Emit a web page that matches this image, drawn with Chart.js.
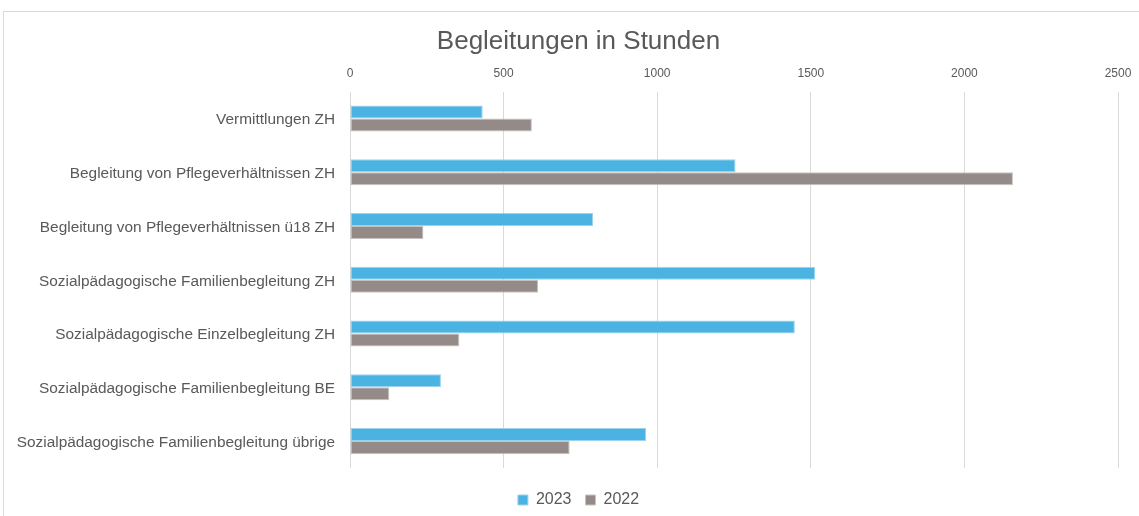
<!DOCTYPE html>
<html>
<head>
<meta charset="utf-8">
<script src="https://cdn.jsdelivr.net/npm/chart.js@4/dist/chart.umd.min.js"></script>
<style>
  html, body { margin: 0; padding: 0; background: #fff; }
  #wrap { position: absolute; left: 0; top: 0; width: 1139px; height: 516px; }
  #frame { position: absolute; left: 3px; top: 11px; width: 1150px; height: 520px; border: 1px solid #d9d9d9; box-sizing: border-box; }
  canvas { position: absolute; left: 0; top: 0; }
</style>
</head>
<body>
<div id="wrap">
  <div id="frame"></div>
  <canvas id="c" width="1139" height="516"></canvas>
</div>
<script>
const categories = [
  "Vermittlungen ZH",
  "Begleitung von Pflegeverhältnissen ZH",
  "Begleitung von Pflegeverhältnissen ü18 ZH",
  "Sozialpädagogische Familienbegleitung ZH",
  "Sozialpädagogische Einzelbegleitung ZH",
  "Sozialpädagogische Familienbegleitung BE",
  "Sozialpädagogische Familienbegleitung übrige"
];
const values2023 = [432, 1255, 791, 1514, 1448, 296, 964];
const values2022 = [592, 2158, 239, 612, 356, 128, 715];
const seriesNames = ["2023", "2022"];
const xTicks = [0, 500, 1000, 1500, 2000, 2500];

const textColor = "#595959";
const fontFamily = "'Liberation Sans', Arial, sans-serif";
const padLeft = 39;

new Chart(document.getElementById("c"), {
  type: "bar",
  data: {
    labels: categories,
    datasets: [
      { label: seriesNames[0], data: values2023, backgroundColor: "#4bb3e2", borderColor: "#9ad3ee", borderWidth: 1, borderSkipped: false },
      { label: seriesNames[1], data: values2022, backgroundColor: "#948b89", borderColor: "#c8c3c2", borderWidth: 1, borderSkipped: false }
    ]
  },
  options: {
    indexAxis: "y",
    responsive: false,
    animation: false,
    devicePixelRatio: 1,
    layout: { padding: { left: padLeft, right: 21, top: 0, bottom: -2 } },
    datasets: { bar: { categoryPercentage: 0.484, barPercentage: 1 } },
    plugins: {
      title: {
        display: true,
        text: "Begleitungen in Stunden",
        color: textColor,
        font: { family: fontFamily, size: 26, weight: "normal", lineHeight: 1.2 },
        padding: { top: 26, bottom: 0 }
      },
      legend: {
        position: "bottom",
        title: { display: true, text: "", font: { size: 10, lineHeight: 1 }, padding: 0 },
        labels: {
          color: textColor,
          font: { family: fontFamily, size: 16, lineHeight: 1.0 },
          boxWidth: 10, boxHeight: 10,
          padding: 14
        }
      },
      tooltip: { enabled: false }
    },
    scales: {
      x: {
        position: "top",
        min: xTicks[0],
        max: xTicks[xTicks.length - 1],
        afterBuildTicks: (s) => { s.ticks = xTicks.map(v => ({ value: v })); },
        afterFit: (s) => { s.height = 34.5; s.paddingRight = 0; },
        grid: { color: "#d9d9d9", lineWidth: 1, drawTicks: false },
        border: { display: false },
        ticks: { color: textColor, font: { family: fontFamily, size: 12 }, padding: 11, callback: (v) => String(v) }
      },
      y: {
        afterFit: (s) => { s.width = 350 - padLeft; s._computeLabelArea = () => undefined; },
        grid: { display: false, drawTicks: false },
        border: { display: false },
        ticks: { color: textColor, font: { family: fontFamily, size: 15.4 }, padding: 15, labelOffset: 1.5 }
      }
    }
  }
});
</script>
</body>
</html>
